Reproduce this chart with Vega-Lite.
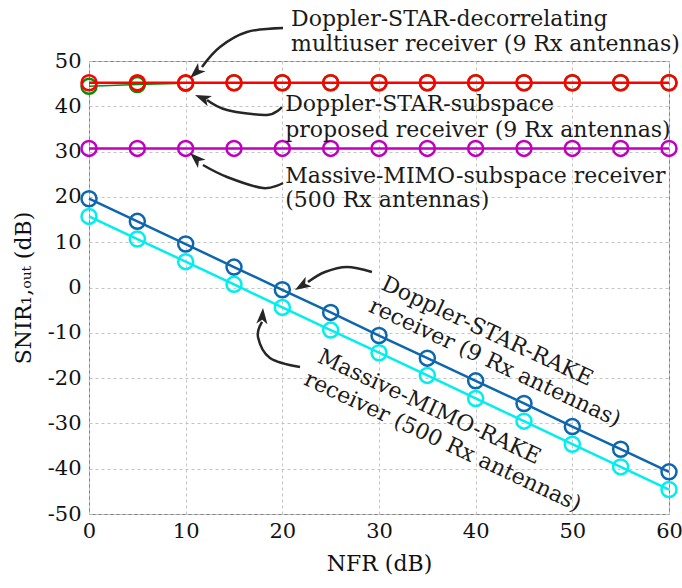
{
  "$schema": "https://vega.github.io/schema/vega-lite/v6.json",
  "width": 580,
  "height": 453,
  "autosize": "none",
  "padding": {"left": 89, "top": 61, "right": 13, "bottom": 74},
  "background": "white",
  "config": {
    "view": {"stroke": "#808080", "strokeWidth": 1},
    "font": "DejaVu Serif",
    "axis": {
      "grid": true,
      "gridColor": "#c4c4c4",
      "gridDash": [3, 3],
      "gridWidth": 1,
      "domain": false,
      "ticks": false,
      "labelFlush": false,
      "labelFont": "DejaVu Serif",
      "labelFontSize": 21,
      "labelColor": "#111",
      "titleFont": "DejaVu Serif",
      "titleFontSize": 22,
      "titleFontWeight": "normal",
      "titleColor": "#111"
    }
  },
  "datasets": {
    "series": [
      {"s": "green", "x": 0, "y": 44.4}, {"s": "green", "x": 5, "y": 44.8}, {"s": "green", "x": 10, "y": 45.1}, {"s": "green", "x": 15, "y": 45.2}, {"s": "green", "x": 20, "y": 45.2}, {"s": "green", "x": 25, "y": 45.2}, {"s": "green", "x": 30, "y": 45.2}, {"s": "green", "x": 35, "y": 45.2}, {"s": "green", "x": 40, "y": 45.2}, {"s": "green", "x": 45, "y": 45.2}, {"s": "green", "x": 50, "y": 45.2}, {"s": "green", "x": 55, "y": 45.2}, {"s": "green", "x": 60, "y": 45.2},
      {"s": "red", "x": 0, "y": 45.2}, {"s": "red", "x": 5, "y": 45.2}, {"s": "red", "x": 10, "y": 45.2}, {"s": "red", "x": 15, "y": 45.2}, {"s": "red", "x": 20, "y": 45.2}, {"s": "red", "x": 25, "y": 45.2}, {"s": "red", "x": 30, "y": 45.2}, {"s": "red", "x": 35, "y": 45.2}, {"s": "red", "x": 40, "y": 45.2}, {"s": "red", "x": 45, "y": 45.2}, {"s": "red", "x": 50, "y": 45.2}, {"s": "red", "x": 55, "y": 45.2}, {"s": "red", "x": 60, "y": 45.2},
      {"s": "magenta", "x": 0, "y": 30.7}, {"s": "magenta", "x": 5, "y": 30.7}, {"s": "magenta", "x": 10, "y": 30.7}, {"s": "magenta", "x": 15, "y": 30.7}, {"s": "magenta", "x": 20, "y": 30.7}, {"s": "magenta", "x": 25, "y": 30.7}, {"s": "magenta", "x": 30, "y": 30.7}, {"s": "magenta", "x": 35, "y": 30.7}, {"s": "magenta", "x": 40, "y": 30.7}, {"s": "magenta", "x": 45, "y": 30.7}, {"s": "magenta", "x": 50, "y": 30.7}, {"s": "magenta", "x": 55, "y": 30.7}, {"s": "magenta", "x": 60, "y": 30.7},
      {"s": "cyan", "x": 0, "y": 15.7}, {"s": "cyan", "x": 5, "y": 10.7}, {"s": "cyan", "x": 10, "y": 5.7}, {"s": "cyan", "x": 15, "y": 0.7}, {"s": "cyan", "x": 20, "y": -4.4}, {"s": "cyan", "x": 25, "y": -9.4}, {"s": "cyan", "x": 30, "y": -14.4}, {"s": "cyan", "x": 35, "y": -19.4}, {"s": "cyan", "x": 40, "y": -24.5}, {"s": "cyan", "x": 45, "y": -29.5}, {"s": "cyan", "x": 50, "y": -34.6}, {"s": "cyan", "x": 55, "y": -39.6}, {"s": "cyan", "x": 60, "y": -44.6},
      {"s": "blue", "x": 0, "y": 19.6}, {"s": "blue", "x": 5, "y": 14.6}, {"s": "blue", "x": 10, "y": 9.6}, {"s": "blue", "x": 15, "y": 4.5}, {"s": "blue", "x": 20, "y": -0.5}, {"s": "blue", "x": 25, "y": -5.5}, {"s": "blue", "x": 30, "y": -10.6}, {"s": "blue", "x": 35, "y": -15.6}, {"s": "blue", "x": 40, "y": -20.6}, {"s": "blue", "x": 45, "y": -25.6}, {"s": "blue", "x": 50, "y": -30.7}, {"s": "blue", "x": 55, "y": -35.7}, {"s": "blue", "x": 60, "y": -40.7}
    ],
    "labels": [
      {"x": 20.9, "y": 57.7, "text": "Doppler-STAR-decorrelating"},
      {"x": 20.9, "y": 52.2, "text": "multiuser receiver (9 Rx antennas)"},
      {"x": 20.3, "y": 39.0, "text": "Doppler-STAR-subspace"},
      {"x": 20.3, "y": 33.3, "text": "proposed receiver (9 Rx antennas)"},
      {"x": 20.3, "y": 23.0, "text": "Massive-MIMO-subspace receiver"},
      {"x": 20.3, "y": 17.7, "text": "(500 Rx antennas)"}
    ],
    "rotlabels": [
      {"x": 30.1, "y": -0.3, "text": "Doppler-STAR-RAKE"},
      {"x": 28.8, "y": -5.2, "text": "receiver (9 Rx antennas)"},
      {"x": 23.5, "y": -16.4, "text": "Massive-MIMO-RAKE"},
      {"x": 22.1, "y": -21.3, "text": "receiver (500 Rx antennas)"}
    ],
    "arrows": [
      {"a": 1, "o": 1, "x": 20.07, "y": 57.28}, {"a": 1, "o": 2, "x": 16.34, "y": 56.4}, {"a": 1, "o": 3, "x": 13.55, "y": 53.1}, {"a": 1, "o": 4, "x": 11.69, "y": 48.7},
      {"a": 2, "o": 1, "x": 19.96, "y": 39.85}, {"a": 2, "o": 2, "x": 18.41, "y": 38.1}, {"a": 2, "o": 3, "x": 14.28, "y": 39.2}, {"a": 2, "o": 4, "x": 12.21, "y": 41.4},
      {"a": 3, "o": 1, "x": 20.07, "y": 23.07}, {"a": 3, "o": 2, "x": 18.0, "y": 21.96}, {"a": 3, "o": 3, "x": 14.28, "y": 24.4}, {"a": 3, "o": 4, "x": 11.79, "y": 27.04},
      {"a": 4, "o": 1, "x": 29.27, "y": 3.42}, {"a": 4, "o": 2, "x": 26.69, "y": 4.53}, {"a": 4, "o": 3, "x": 24.41, "y": 3.42}, {"a": 4, "o": 4, "x": 22.65, "y": 1.21},
      {"a": 5, "o": 1, "x": 21.83, "y": -17.55}, {"a": 5, "o": 2, "x": 18.72, "y": -15.56}, {"a": 5, "o": 3, "x": 17.48, "y": -10.93}, {"a": 5, "o": 4, "x": 17.9, "y": -7.6}
    ],
    "heads": [
      {"a": 1, "x": 10.45, "y": 46.25},
      {"a": 2, "x": 10.97, "y": 42.5},
      {"a": 3, "x": 10.45, "y": 29.7},
      {"a": 4, "x": 21.31, "y": -0.55},
      {"a": 5, "x": 18.0, "y": -4.5}
    ]
  },
  "encoding": {
    "x": {"field": "x", "type": "quantitative", "scale": {"domain": [0, 60], "nice": false},
          "axis": {"values": [0, 10, 20, 30, 40, 50, 60], "title": "NFR (dB)", "labelPadding": 6, "titlePadding": 12}},
    "y": {"field": "y", "type": "quantitative", "scale": {"domain": [-50, 50], "nice": false},
          "axis": {"values": [-50, -40, -30, -20, -10, 0, 10, 20, 30, 40, 50], "labelExpr": "datum.value + ''", "title": "SNIR₁,ₒᵤₜ (dB)", "labelPadding": 8, "titlePadding": 12}}
  },
  "layer": [
    {"data": {"name": "series"}, "transform": [{"filter": "datum.s == 'green'"}],
     "mark": {"type": "line", "color": "#0a8a0a", "strokeWidth": 1.5, "point": {"filled": false, "size": 225, "strokeWidth": 2.5, "color": "#0a8a0a"}}},
    {"data": {"name": "series"}, "transform": [{"filter": "datum.s == 'red'"}],
     "mark": {"type": "line", "color": "#ff0000", "strokeWidth": 2.5, "point": {"filled": false, "size": 225, "strokeWidth": 2.5, "color": "#ff0000"}}},
    {"data": {"name": "series"}, "transform": [{"filter": "datum.s == 'magenta'"}],
     "mark": {"type": "line", "color": "#bf00bf", "strokeWidth": 2.5, "point": {"filled": false, "size": 225, "strokeWidth": 2.5, "color": "#bf00bf"}}},
    {"data": {"name": "series"}, "transform": [{"filter": "datum.s == 'cyan'"}],
     "mark": {"type": "line", "color": "#00eeee", "strokeWidth": 2.5, "point": {"filled": false, "size": 225, "strokeWidth": 2.5, "color": "#00eeee"}}},
    {"data": {"name": "series"}, "transform": [{"filter": "datum.s == 'blue'"}],
     "mark": {"type": "line", "color": "#0d67ae", "strokeWidth": 2.5, "point": {"filled": false, "size": 225, "strokeWidth": 2.5, "color": "#0d67ae"}}},
    {"data": {"name": "arrows"},
     "mark": {"type": "line", "interpolate": "cardinal", "color": "#262626", "strokeWidth": 2.5, "clip": false},
     "encoding": {"detail": {"field": "a"}, "order": {"field": "o"}}},
    {"data": {"name": "heads"}, "transform": [{"filter": "datum.a == 1"}],
     "mark": {"type": "point", "shape": "M0,0L-0.7,2L0,1.5L0.7,2Z", "size": 256, "filled": true, "color": "#262626", "opacity": 1, "angle": 227.5}},
    {"data": {"name": "heads"}, "transform": [{"filter": "datum.a == 2"}],
     "mark": {"type": "point", "shape": "M0,0L-0.7,2L0,1.5L0.7,2Z", "size": 256, "filled": true, "color": "#262626", "opacity": 1, "angle": 292.6}},
    {"data": {"name": "heads"}, "transform": [{"filter": "datum.a == 3"}],
     "mark": {"type": "point", "shape": "M0,0L-0.7,2L0,1.5L0.7,2Z", "size": 256, "filled": true, "color": "#262626", "opacity": 1, "angle": 312.7}},
    {"data": {"name": "heads"}, "transform": [{"filter": "datum.a == 4"}],
     "mark": {"type": "point", "shape": "M0,0L-0.7,2L0,1.5L0.7,2Z", "size": 256, "filled": true, "color": "#262626", "opacity": 1, "angle": 238.4}},
    {"data": {"name": "heads"}, "transform": [{"filter": "datum.a == 5"}],
     "mark": {"type": "point", "shape": "M0,0L-0.7,2L0,1.5L0.7,2Z", "size": 256, "filled": true, "color": "#262626", "opacity": 1, "angle": 4}},
    {"data": {"name": "labels"},
     "mark": {"type": "text", "align": "left", "baseline": "alphabetic", "font": "DejaVu Serif", "fontSize": 22, "color": "#1a1a1a", "clip": false},
     "encoding": {"text": {"field": "text"}}},
    {"data": {"name": "rotlabels"},
     "mark": {"type": "text", "align": "left", "baseline": "alphabetic", "font": "DejaVu Serif", "fontSize": 22, "color": "#1a1a1a", "angle": 25, "clip": false},
     "encoding": {"text": {"field": "text"}}}
  ]
}
